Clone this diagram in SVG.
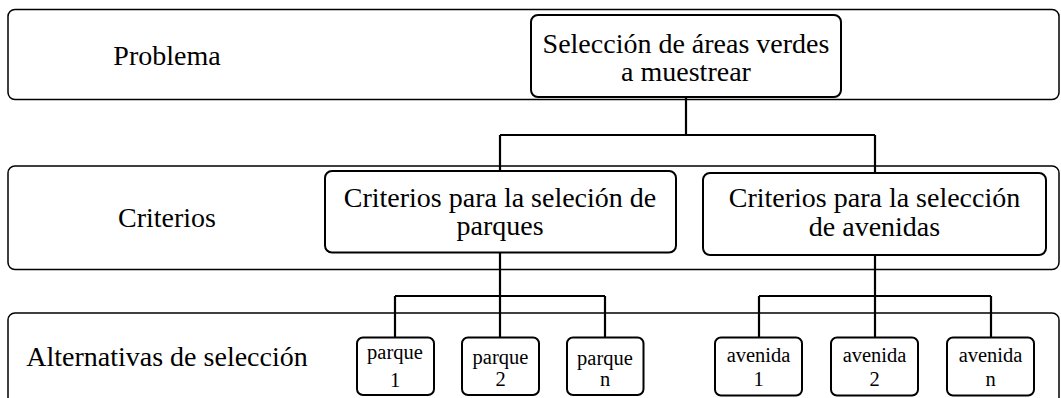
<svg xmlns="http://www.w3.org/2000/svg" width="1061" height="398" viewBox="0 0 1061 398">
<style>
.band{fill:none;stroke:#000;stroke-width:1.5}
.node{fill:#fff;stroke:#000;stroke-width:2}
.conn{fill:none;stroke:#000;stroke-width:2.2}
text{font-family:"Liberation Serif","Times New Roman",serif;fill:#000;text-anchor:middle}
.big{font-size:28px}
.small{font-size:20.5px}
</style>
<rect width="1061" height="398" fill="#fff"/>
<g id="bands">
<g id="band-problema"><rect class="band" x="8" y="9.5" width="1051" height="90" rx="7"/><text class="big" x="167" y="65">Problema</text></g>
<g id="band-criterios"><rect class="band" x="8" y="166" width="1051" height="103.5" rx="7"/><text class="big" x="167" y="227">Criterios</text></g>
<g id="band-alternativas"><rect class="band" x="8" y="313" width="1051" height="110" rx="7"/><text class="big" x="167" y="366">Alternativas de selección</text></g>
</g>
<g id="connectors">
<path class="conn" d="M686 97 V135 M500 135 H875 M500 135 V171 M875 135 V173"/>
<path class="conn" d="M500 252 V338 M395 296 H605 M395 296 V338 M605 296 V338"/>
<path class="conn" d="M875 255 V338 M759 296 H991 M759 296 V338 M991 296 V338"/>
</g>
<g id="n-top"><rect class="node" x="531" y="15" width="310" height="82" rx="7"/><text class="big" x="686" y="52.5">Selección de áreas verdes</text><text class="big" x="686" y="81">a muestrear</text></g>
<g id="n-crit-parques"><rect class="node" x="325" y="171" width="351" height="81.5" rx="7"/><text class="big" x="500" y="206.5">Criterios para la seleción de</text><text class="big" x="500" y="234.5">parques</text></g>
<g id="n-crit-avenidas"><rect class="node" x="703" y="173" width="343" height="82" rx="7"/><text class="big" x="874.5" y="207">Criterios para la selección</text><text class="big" x="874.5" y="235.5">de avenidas</text></g>
<g id="n-parque1"><rect class="node" x="357" y="337.5" width="77" height="57.5" rx="6"/><text class="small" x="395" y="358.5">parque</text><text class="small" x="395" y="387">1</text></g>
<g id="n-parque2"><rect class="node" x="462" y="337.5" width="77" height="57.5" rx="6"/><text class="small" x="500.5" y="364">parque</text><text class="small" x="500.5" y="386">2</text></g>
<g id="n-parquen"><rect class="node" x="567" y="337.5" width="76.5" height="57.5" rx="6"/><text class="small" x="605" y="364.5">parque</text><text class="small" x="605" y="386">n</text></g>
<g id="n-avenida1"><rect class="node" x="715" y="337.5" width="87" height="58" rx="6"/><text class="small" x="758.5" y="361.5">avenida</text><text class="small" x="758.5" y="386">1</text></g>
<g id="n-avenida2"><rect class="node" x="831" y="337.5" width="87" height="58" rx="6"/><text class="small" x="874.5" y="361.5">avenida</text><text class="small" x="874.5" y="386">2</text></g>
<g id="n-avenidan"><rect class="node" x="947" y="337.5" width="87" height="58" rx="6"/><text class="small" x="990.5" y="361.5">avenida</text><text class="small" x="990.5" y="386">n</text></g>
</svg>
